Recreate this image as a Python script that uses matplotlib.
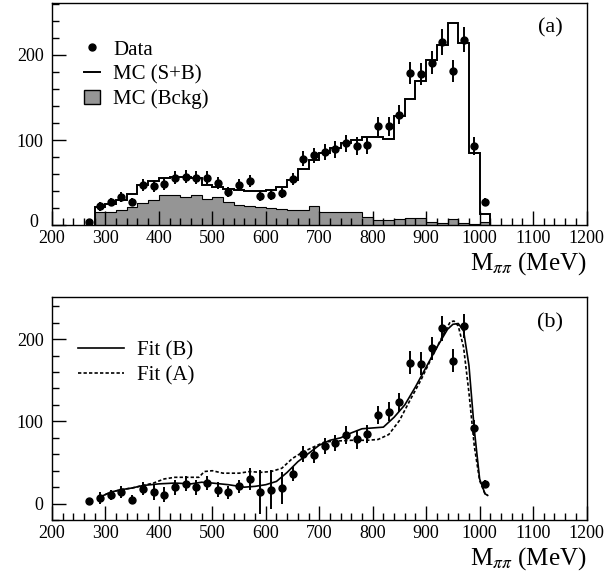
import matplotlib
matplotlib.use("Agg")
import matplotlib.pyplot as plt
import numpy as np
from matplotlib.lines import Line2D
from matplotlib.patches import Patch
from matplotlib.ticker import MultipleLocator, FuncFormatter

plt.rcParams['font.family'] = ['Liberation Serif', 'DejaVu Serif']
plt.rcParams['mathtext.fontset'] = 'stix'

# data points (bin centres, MeV)
mass = [270, 290, 310, 330, 350, 370, 390, 410, 430, 450, 470, 490, 510, 530,
        550, 570, 590, 610, 630, 650, 670, 690, 710, 730, 750, 770, 790, 810,
        830, 850, 870, 890, 910, 930, 950, 970, 990, 1010]

# panel (a)
data_a = [4, 22, 27, 33, 27, 47, 46, 48, 56, 57, 56, 56, 50, 39, 47, 52, 34, 36,
          38, 54, 78, 82, 86, 89, 96, 93, 94, 116, 116, 130, 179, 178, 191, 215,
          181, 218, 93, 27]
err_a = [2, 5, 5, 6, 5, 7, 7, 7, 7.5, 7.5, 7.5, 7.5, 7, 6, 7, 7, 6, 6, 6, 7, 9,
         9, 9, 9.5, 10, 10, 10, 11, 11, 11, 13, 13, 14, 15, 13, 15, 10, 5]

# MC histograms, 20 MeV bins from 280 to 1020
edges = list(range(280, 1021, 20))
mc_sb = [21, 25, 30, 37, 47, 52, 55, 57, 57, 56, 47, 45, 42, 41, 40, 40, 41, 45,
         53, 66, 76, 85, 91, 96, 100, 103, 104, 101, 128, 148, 169, 194, 212,
         238, 214, 85, 13]
mc_bkg = [15, 16, 18, 21, 26, 30, 35, 36, 33, 36, 31, 33, 27, 24, 22, 21, 20, 19,
          18, 18, 22, 15, 15, 16, 16, 10, 6, 6, 7, 8, 8, 4, 3, 7, 3, 2, 4]

# panel (b)
data_b = [3, 7, 11, 14, 5, 18, 14, 11, 20, 24, 20, 25, 17, 14, 21, 30, 14, 17,
          19, 36, 60, 59, 70, 74, 83, 78, 85, 108, 112, 123, 171, 170, 189, 213,
          174, 216, 92, 24]
err_b = [2, 7, 6, 7, 6, 8, 9, 9, 9, 9, 9, 9, 9, 8, 8, 13, 27, 24, 20, 8, 10, 10,
         10, 10, 11, 11, 11, 11, 11, 11, 14, 14, 14, 15, 14, 15, 10, 5]

fit_b_x = [290, 310, 330, 350, 370, 400, 430, 460, 480, 500, 530, 560, 580, 600,
           620, 640, 660, 680, 700, 720, 740, 760, 780, 800, 820, 840, 860, 880,
           900, 920, 940, 950, 960, 970, 980, 990, 1000, 1010, 1015]
fit_b_y = [8, 14, 17, 19, 22, 24, 25, 24, 26, 25, 23, 20, 21, 23, 27, 38, 51, 61,
           71, 77, 80, 86, 91, 92, 93, 105, 120, 142, 166, 190, 212, 218, 219,
           210, 168, 90, 30, 12, 10]

fit_a_x = [290, 310, 330, 350, 370, 390, 410, 430, 460, 475, 485, 500, 520, 550,
           570, 590, 610, 630, 650, 670, 690, 710, 730, 760, 790, 810, 830, 850,
           870, 890, 910, 930, 945, 952, 960, 970, 980, 990, 1000, 1010, 1015]
fit_a_y = [8, 14, 17, 19, 22, 25, 30, 32, 32, 32, 39, 40, 37, 37, 39, 38, 39, 43,
           55, 63, 69, 75, 76, 77, 77, 78, 84, 101, 126, 150, 177, 203, 221, 222,
           216, 190, 135, 70, 28, 12, 10]

fig = plt.figure(figsize=(6.11, 5.85), dpi=100)
ax1 = fig.add_axes([0.085, 0.615, 0.875, 0.380])
ax2 = fig.add_axes([0.085, 0.111, 0.875, 0.381])


def style(ax):
    ax.set_xlim(200, 1200)
    ax.xaxis.set_major_locator(MultipleLocator(100))
    ax.xaxis.set_minor_locator(MultipleLocator(20))
    ax.yaxis.set_major_locator(MultipleLocator(100))
    ax.yaxis.set_minor_locator(MultipleLocator(20))
    ax.tick_params(which='both', direction='in', top=False, right=False,
                   labelsize=13)
    ax.tick_params(axis='y', pad=6)
    ax.tick_params(which='major', length=10, width=1)
    ax.tick_params(which='minor', length=5, width=1)
    for s in ax.spines.values():
        s.set_linewidth(1.0)
    ax.set_xlabel(r'M$_{\pi\pi}$ (MeV)', fontsize=18, loc='right',
                  labelpad=2)


# (a)
ax1.stairs(mc_bkg, edges, fill=True, facecolor='#959595', edgecolor='none')
ax1.stairs(mc_bkg, edges, color='black', lw=0.8, baseline=0)
ax1.stairs(mc_sb, edges, color='black', lw=1.4, baseline=0)
ax1.errorbar(mass, data_a, yerr=err_a, xerr=5, fmt='o', color='black',
             ms=5, elinewidth=1.4, capsize=0)
ax1.set_ylim(0, 261)
style(ax1)
# the "0" of panel (a) sits a bit higher, left of the "200"
ax1.yaxis.set_major_formatter(FuncFormatter(lambda v, p: '' if v == 0 else '%d' % v))
ax1.text(-0.026, 0.012, '0', transform=ax1.transAxes, fontsize=13,
         ha='right', va='center')
ax1.text(0.955, 0.93, '(a)', transform=ax1.transAxes, fontsize=16,
         ha='right', va='top')
h = [Line2D([], [], marker='o', ls='none', color='black', ms=5),
     Line2D([], [], color='black', lw=1.4),
     Patch(facecolor='#959595', edgecolor='black')]
ax1.legend(h, ['Data', 'MC (S+B)', 'MC (Bckg)'], loc='upper left',
           bbox_to_anchor=(0.04, 0.88), frameon=False, fontsize=15,
           handlelength=0.8, handletextpad=0.6, labelspacing=0.25,
           borderpad=0)

# (b)
ax2.errorbar(mass, data_b, yerr=err_b, xerr=5, fmt='o', color='black',
             ms=5, elinewidth=1.4, capsize=0)
ax2.plot(fit_b_x, fit_b_y, color='black', lw=1.2, label='Fit (B)')
ax2.plot(fit_a_x, fit_a_y, color='black', lw=1.2, ls=(0, (2, 1.3)),
         label='Fit (A)')
ax2.set_ylim(-20, 251)
style(ax2)
ax2.text(0.955, 0.93, '(b)', transform=ax2.transAxes, fontsize=16,
         ha='right', va='top')
ax2.legend(loc='upper left', bbox_to_anchor=(0.03, 0.85), frameon=False,
           fontsize=15, handlelength=2.2, handletextpad=0.6,
           labelspacing=0.25, borderpad=0)

fig.savefig('out.png', dpi=100)
